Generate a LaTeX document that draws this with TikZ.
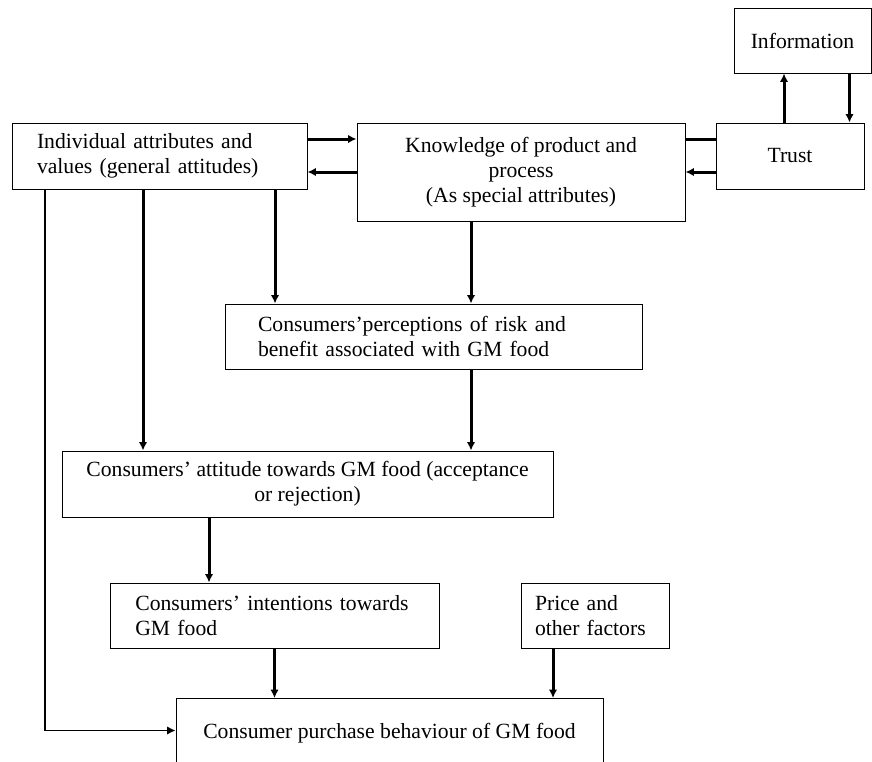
\documentclass[tikz,border=0pt]{standalone}
\usepackage{fontspec}
\setmainfont{Liberation Serif}
\usepackage{tikz}
\usetikzlibrary{calc}
\usetikzlibrary{arrows.meta}

\begin{document}
\begin{tikzpicture}[x=0.6pt,y=-0.6pt,
        box/.style={draw,line width=0.6pt,inner sep=0pt,font=\fontsize{13}{15}\selectfont},
        arr/.style={line width=1.8pt,-{Latex[length=5pt,width=5pt]}},
        ln/.style={line width=1.8pt}]
        \useasboundingbox (0,0) rectangle (872,761);
        \clip (0,0) rectangle (872,761);

        % top line
        \node[box,minimum width=82.2pt,minimum height=39pt] (info) at (802.5,40.5) {Information};
        \node[box,minimum width=88.8pt,minimum height=39.6pt] (trust) at (790,156) {Trust};
        \node[box,minimum width=177pt,minimum height=39.6pt,text width=147pt,inner xsep=15pt,align=left] (indiv) at (159.5,156) {Individual attributes and\\values (general attitudes)};
        \node[box,minimum width=196.8pt,minimum height=58.8pt,align=center] (know) at (521,172) {Knowledge of product and\\process\\(As special attributes)};

        % middle line
        \node[box,minimum width=250.2pt,minimum height=39pt,text width=210.6pt,inner xsep=19.8pt,align=left] (perc) at (433.5,336.5) {Consumers'perceptions of risk and\\benefit associated with GM food};
        \node[box,minimum width=294.6pt,minimum height=39.6pt,align=center] (att) at (307.5,484) {Consumers' attitude towards GM food (acceptance\\or rejection)};

        % bottom line
        \node[box,minimum width=197.4pt,minimum height=39pt,text width=167pt,inner xsep=15.2pt,align=left] (int) at (274.5,615.5) {Consumers' intentions towards\\GM food};
        \node[box,minimum width=88.8pt,minimum height=39pt,text width=72pt,inner xsep=8.4pt,align=left] (price) at (595,615.5) {Price and\\other factors};
        \node[box,minimum width=256.2pt,minimum height=42pt,anchor=north] (buy) at (389.5,698) {Consumer purchase behaviour of GM food};

        % trust and information
        \draw[arr] ([xshift=-3.6pt]trust.north) -- ([xshift=-3.6pt]trust.north |- info.south);
        \draw[arr] ([xshift=28.2pt]info.south) -- ([xshift=28.2pt]info.south |- trust.north);
        \draw[ln] ([yshift=10.2pt]trust.west) -- ([yshift=10.2pt]trust.west -| know.east);
        \draw[arr] ([yshift=-9.6pt]trust.west) -- ([yshift=-9.6pt]trust.west -| know.east);
        \draw[arr] ([yshift=10.2pt]indiv.east) -- ([yshift=10.2pt]indiv.east -| know.west);
        \draw[arr] ([yshift=-9.6pt]know.west |- indiv.east) -- ([yshift=-9.6pt]indiv.east);

        % down the page
        \draw[arr] ([xshift=-9.9pt]indiv.south) -- ([xshift=-9.9pt]indiv.south |- att.north);
        \draw[arr] ([xshift=69.3pt]indiv.south) -- ([xshift=69.3pt]indiv.south |- perc.north);
        \draw[arr] ([xshift=-30pt]know.south) -- ([xshift=-30pt]know.south |- perc.north);
        \draw[arr] ([xshift=22.5pt]perc.south) -- ([xshift=22.5pt]perc.south |- att.north);
        \draw[arr] ([xshift=-59.1pt]att.south) -- ([xshift=-59.1pt]att.south |- int.north);
        \draw[arr] (int.south) -- (int.south |- buy.north);
        \draw[arr] ([xshift=-25.2pt]price.south) -- ([xshift=-25.2pt]price.south |- buy.north);
        \draw[line width=0.8pt,-{Latex[length=5pt,width=5pt]}] ([xshift=-68.7pt]indiv.south) |- ([yshift=1.8pt]buy.west);
    \end{tikzpicture}
\end{document}
